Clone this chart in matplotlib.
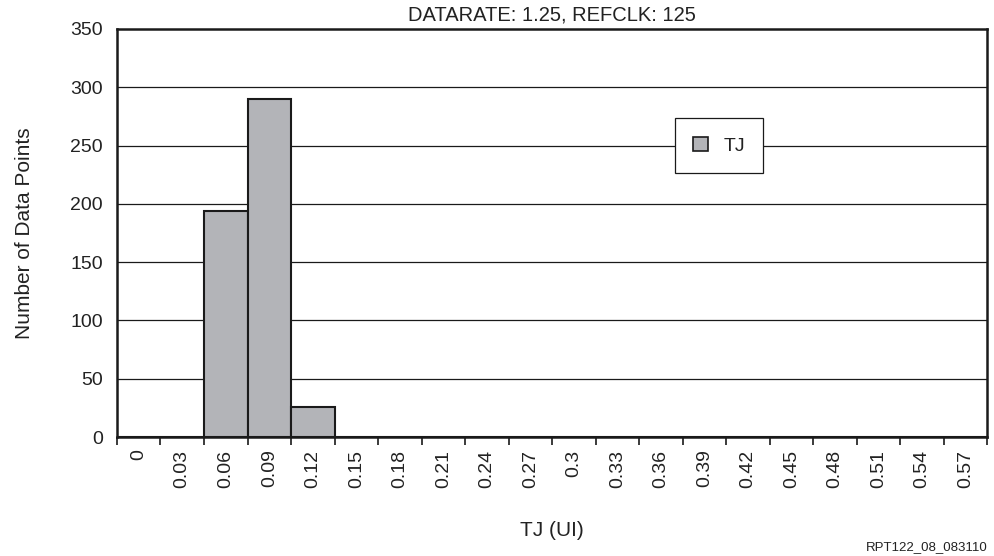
import numpy as np
import matplotlib
matplotlib.use("Agg")
import matplotlib.pyplot as plt
from matplotlib.patches import Patch

# dados
categorias = ["0", "0.03", "0.06", "0.09", "0.12", "0.15", "0.18", "0.21", "0.24", "0.27",
              "0.3", "0.33", "0.36", "0.39", "0.42", "0.45", "0.48", "0.51", "0.54", "0.57"]
contagens = [0, 0, 194, 290, 26, 0, 0, 0, 0, 0,
             0, 0, 0, 0, 0, 0, 0, 0, 0, 0]
y_ticks = [0, 50, 100, 150, 200, 250, 300, 350]

plt.rcParams['font.family'] = ['Liberation Sans', 'DejaVu Sans']

fig = plt.figure(figsize=(9.94, 5.56), dpi=100)
ax = fig.add_axes([0.1177, 0.214, 0.8753, 0.734])

x = np.arange(len(categorias))
ax.bar(x, contagens, width=1.0, color='#b3b4b8', edgecolor='#1a1a1a', linewidth=1.5, zorder=3)

ax.set_xlim(-0.5, len(categorias) - 0.5)
ax.set_ylim(0, 350)
ax.set_yticks(y_ticks)
ax.set_yticklabels([str(v) for v in y_ticks], fontsize=14, color='#222222')
ax.tick_params(axis='y', length=0, pad=10)

# grelha horizontal (sem a linha no topo)
for v in y_ticks[1:-1]:
    ax.axhline(v, color='#1a1a1a', linewidth=0.9, zorder=1)

ax.set_xticks(x)
ax.set_xticklabels(categorias, rotation=90, fontsize=14, va='top', color='#222222')
ax.tick_params(axis='x', which='major', length=0, pad=9)
ax.set_xticks(np.arange(len(categorias) + 1) - 0.5, minor=True)
ax.tick_params(axis='x', which='minor', length=6, width=1.2, direction='out', color='#1a1a1a')

for s in ax.spines.values():
    s.set_linewidth(1.8)
    s.set_color('#1a1a1a')

ax.set_title('DATARATE: 1.25, REFCLK: 125', fontsize=14.5, pad=6, color='#222222')
ax.set_ylabel('Number of Data Points', fontsize=15, labelpad=26, color='#222222')
ax.set_xlabel('TJ (UI)', fontsize=15, labelpad=24, color='#222222')

leg = ax.legend(handles=[Patch(facecolor='#b3b4b8', edgecolor='#1a1a1a', linewidth=1.2, label='TJ')],
                loc='center', bbox_to_anchor=(0.692, 0.714), fontsize=14, frameon=True,
                fancybox=False, borderpad=0.95, handlelength=0.75, handleheight=0.75,
                handletextpad=0.8, borderaxespad=0)
leg.get_frame().set_edgecolor('#1a1a1a')
leg.get_frame().set_linewidth(0.9)
leg.get_frame().set_alpha(1)
leg.set_zorder(5)
for t in leg.get_texts():
    t.set_color('#222222')

fig.text(0.994, 0.016, 'RPT122_08_083110', fontsize=9.5, ha='right', va='center', color='#222222')

fig.savefig('out.png', dpi=100)
